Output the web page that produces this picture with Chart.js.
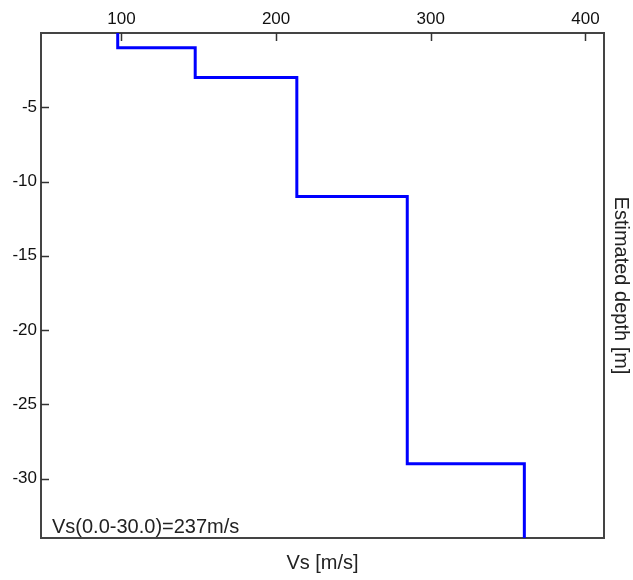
<!DOCTYPE html>
<html>
<head>
  <title>Vs profile</title>
  <script src="https://cdn.jsdelivr.net/npm/chart.js"></script>
  <style>
    body { margin: 0; background: #fff; }
    #wrap { width: 633px; height: 580px; }
  </style>
</head>
<body>
<div id="wrap"><canvas id="chartCanvas"></canvas></div>
<script>
  // layer shear velocities [m/s] and layer limits [m]
  const vsValues = [97.6, 147.7, 213.4, 284.8, 360.5];
  const layerTop = [0, 1, 3, 11, 29];
  const layerBottom = [1, 3, 11, 29, 34];
  const xTicks = [100, 200, 300, 400];
  const yTicks = [-5, -10, -15, -20, -25, -30];
  const vs30Text = "Vs(0.0-30.0)=237m/s";

  // staircase: each layer is a vertical segment at its velocity
  const profile = [];
  vsValues.forEach((v, i) => {
    profile.push({ x: v, y: -layerTop[i] });
    profile.push({ x: v, y: -layerBottom[i] });
  });

  const FONT = "'Liberation Sans', Arial, sans-serif";
  const axisColor = "#444";

  // tick labels in the original are narrow and tall; use the narrow face if it is there
  const hasNarrow = (() => {
    const c = document.createElement("canvas").getContext("2d");
    c.font = "40px 'Liberation Sans Narrow', monospace";
    const a = c.measureText("100 abc").width;
    c.font = "40px monospace";
    return Math.abs(a - c.measureText("100 abc").width) > 0.5;
  })();
  const tickFont = hasNarrow
    ? { family: "'Liberation Sans Narrow'", size: 18 }
    : { family: FONT, size: 17 };

  // small tick marks pointing into the plot + the Vs30 note
  const innerTicks = {
    id: "innerTicks",
    afterDraw(chart) {
      const { ctx, chartArea, scales } = chart;
      ctx.save();
      ctx.strokeStyle = "#333";
      ctx.lineWidth = 1.5;
      scales.x.ticks.forEach(t => {
        const px = Math.round(scales.x.getPixelForValue(t.value)) + 0.5;
        ctx.beginPath();
        ctx.moveTo(px, chartArea.top);
        ctx.lineTo(px, chartArea.top + 8);
        ctx.stroke();
      });
      scales.y.ticks.forEach(t => {
        const py = Math.round(scales.y.getPixelForValue(t.value)) + 0.5;
        ctx.beginPath();
        ctx.moveTo(chartArea.left, py);
        ctx.lineTo(chartArea.left + 8, py);
        ctx.stroke();
      });
      ctx.fillStyle = "#222";
      ctx.font = "20px " + FONT;
      ctx.textBaseline = "alphabetic";
      ctx.textAlign = "left";
      ctx.fillText(vs30Text, chartArea.left + 11, chartArea.bottom - 5);
      ctx.restore();
    }
  };

  const ctx = document.getElementById("chartCanvas").getContext("2d");
  new Chart(ctx, {
    type: "line",
    data: {
      datasets: [{
        data: profile,
        borderColor: "#0000ff",
        borderWidth: 3,
        pointRadius: 0,
        tension: 0,
        fill: false,
        borderJoinStyle: "miter"
      }]
    },
    options: {
      responsive: true,
      maintainAspectRatio: false,
      animation: false,
      devicePixelRatio: 1,
      layout: { padding: 0 },
      plugins: {
        legend: { display: false },
        tooltip: { enabled: false }
      },
      scales: {
        x: {
          type: "linear",
          position: "top",
          min: 48,
          max: 412,
          afterBuildTicks: s => { s.ticks = xTicks.map(v => ({ value: v })); },
          afterFit: s => { s.height = 33; },
          grid: { display: false, drawTicks: false },
          border: { display: true, color: axisColor, width: 2 },
          ticks: {
            autoSkip: false, maxRotation: 0, padding: 3,
            color: "#111", font: tickFont
          }
        },
        x2: {
          type: "linear",
          position: "bottom",
          min: 48,
          max: 412,
          afterFit: s => { s.height = 42; },
          grid: { display: false, drawTicks: false },
          border: { display: true, color: axisColor, width: 2 },
          ticks: { display: false },
          title: {
            display: true, text: "Vs [m/s]", color: "#222",
            font: { family: FONT, size: 20 }, padding: { top: 0, bottom: 5 }
          }
        },
        y: {
          type: "linear",
          position: "left",
          min: -34,
          max: 0,
          afterBuildTicks: s => { s.ticks = yTicks.map(v => ({ value: v })); },
          afterFit: s => { s.width = 41; },
          grid: { display: false, drawTicks: false },
          border: { display: true, color: axisColor, width: 2 },
          ticks: {
            autoSkip: false, padding: 4,
            color: "#111", font: tickFont
          }
        },
        y2: {
          type: "linear",
          position: "right",
          min: -34,
          max: 0,
          afterFit: s => { s.width = 29; },
          grid: { display: false, drawTicks: false },
          border: { display: true, color: axisColor, width: 2 },
          ticks: { display: false },
          title: {
            display: true, text: "Estimated depth [m]", color: "#222",
            font: { family: FONT, size: 20 }, padding: { top: 0, bottom: 0 }
          }
        }
      }
    },
    plugins: [innerTicks]
  });
</script>
</body>
</html>
